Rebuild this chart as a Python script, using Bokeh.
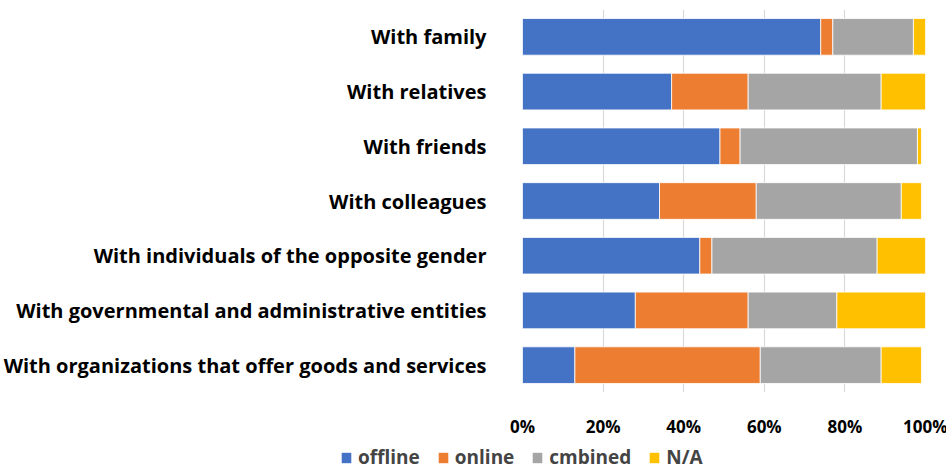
from bokeh.plotting import figure
from bokeh.layouts import column
from bokeh.models import ColumnDataSource, FixedTicker, CustomJSTickFormatter, Legend, LegendItem
from bokeh.embed import file_html
from bokeh.resources import INLINE

categories = [
    "With family",
    "With relatives",
    "With friends",
    "With colleagues",
    "With individuals of the opposite gender",
    "With governmental and administrative entities",
    "With organizations that offer goods and services",
]
offline = [74, 37, 49, 34, 44, 28, 13]
online = [3, 19, 5, 24, 3, 28, 46]
cmbined = [20, 33, 44, 36, 41, 22, 30]
na = [3, 11, 1, 5, 12, 22, 10]
series_names = ["offline", "online", "cmbined", "N/A"]
series_keys = ["offline", "online", "cmbined", "na"]
colors = ["#4472C4", "#ED7D31", "#A5A5A5", "#FFC000"]
x_ticks = [0, 20, 40, 60, 80, 100]

FONT = "Open Sans"

source = ColumnDataSource(dict(cat=categories, offline=offline, online=online, cmbined=cmbined, na=na))

p = figure(
    width=946, height=440,
    frame_width=403, frame_height=383,
    y_range=list(reversed(categories)),
    x_range=(0, 100),
    output_backend="svg", toolbar_location=None,
    min_border_left=521, min_border_right=22, min_border_top=9, min_border_bottom=48,
)
p.frame_align = False
p.outline_line_color = None

p.hbar_stack(series_keys, y="cat", height=0.67, color=colors, source=source,
             line_color="white", line_width=0.8)

p.xaxis.ticker = FixedTicker(ticks=x_ticks)
p.xaxis.formatter = CustomJSTickFormatter(code="return tick + '%';")
p.xaxis.axis_line_color = None
p.xaxis.major_tick_line_color = None
p.xaxis.minor_tick_line_color = None
p.xaxis.major_label_text_font = FONT
p.xaxis.major_label_text_font_style = "bold"
p.xaxis.major_label_text_font_size = "17px"
p.xaxis.major_label_text_color = "black"
p.xaxis.major_label_standoff = 16

p.yaxis.axis_line_color = None
p.yaxis.major_tick_line_color = None
p.yaxis.minor_tick_line_color = None
p.yaxis.major_label_text_font = FONT
p.yaxis.major_label_text_font_style = "bold"
p.yaxis.major_label_text_font_size = "20px"
p.yaxis.major_label_text_color = "black"
p.yaxis.major_label_standoff = 30

p.ygrid.grid_line_color = None
p.xgrid.grid_line_color = "#D9D9D9"
p.xgrid.grid_line_width = 1.2

# Legend strip: a full-width frame so the legend is not clipped
lf = figure(
    width=946, height=27,
    x_range=(0, 1), y_range=(0, 1),
    output_backend="svg", toolbar_location=None,
    min_border_left=0, min_border_right=0, min_border_top=0, min_border_bottom=0,
    x_axis_type=None, y_axis_type=None,
)
lf.frame_align = False
lf.outline_line_color = None
# zero-width swatch glyphs used only to draw the legend keys
swatch = ColumnDataSource(dict(y=[0], left=[0], right=[0]))
legend_renderers = [
    lf.hbar(y="y", left="left", right="right", height=0, source=swatch, fill_color=c, line_color=None)
    for c in colors
]
legend = Legend(
    items=[LegendItem(label=n, renderers=[r]) for n, r in zip(series_names, legend_renderers)],
    orientation="horizontal",
    location=(340, -3),
    label_text_font=FONT,
    label_text_font_style="bold",
    label_text_font_size="19px",
    glyph_width=12, glyph_height=13,
    spacing=17, label_standoff=6,
    border_line_color=None, background_fill_alpha=0,
    padding=0, margin=0,
)
lf.add_layout(legend, "center")

layout = column(p, lf, spacing=0)
open("out.html", "w").write(file_html(layout, INLINE))
